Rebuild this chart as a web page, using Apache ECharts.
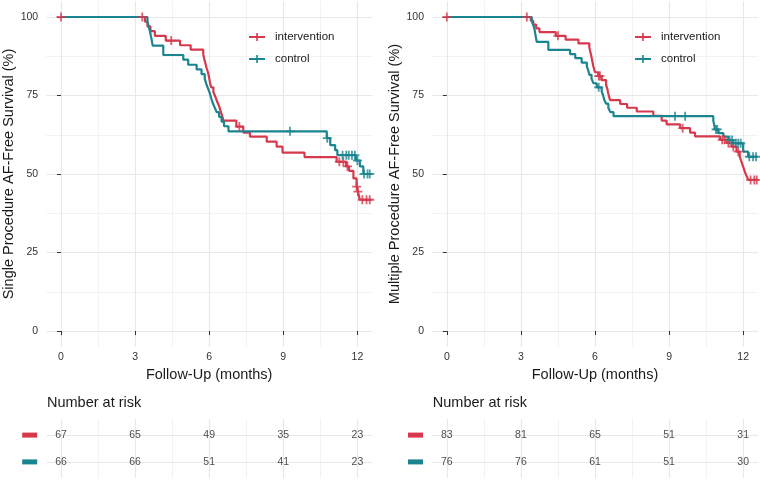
<!DOCTYPE html>
<html><head><meta charset="utf-8">
<script src="https://cdn.jsdelivr.net/npm/echarts@6/dist/echarts.min.js"></script>
<style>html,body{margin:0;padding:0;background:#fff}#c{width:760px;height:480px}</style>
</head><body><div id="c"></div>
<script>
// ---------- DATA ----------
const xTicks = [0, 3, 6, 9, 12];
const xMinorTicks = [1.5, 4.5, 7.5, 10.5];
const yTicks = [0, 25, 50, 75, 100];
const yMinorTicks = [12.5, 37.5, 62.5, 87.5];

// Single procedure (left)
const leftIntT = [0,3.40,3.50,3.62,3.80,4.24,4.82,5.25,5.76,5.80,5.85,5.90,5.96,6.00,6.03,6.08,6.17,6.25,6.32,6.40,6.46,6.52,6.58,7.10,7.38,7.65,8.33,8.73,8.97,9.86,11.16,11.54,11.66,11.84,11.97,12.02,12.10,12.58];
const leftIntS = [100,98.5,97.0,95.5,94.0,92.5,91.0,89.6,88.1,86.6,85.1,83.6,82.1,80.6,79.1,77.6,76.1,74.6,73.1,71.6,70.1,68.6,67.0,65.1,63.2,61.9,60.3,58.7,56.8,55.4,53.9,52.4,51.0,48.6,46.0,44.4,41.8,41.8];
const leftIntCensT = [0,3.29,4.46,7.22,11.27,11.43,11.60,11.97,12.02,12.20,12.37,12.50];
const leftIntCensS = [100,100,92.5,65.1,53.9,53.9,52.4,46.0,44.4,41.8,41.8,41.8];

const leftCtlT = [0,3.50,3.55,3.60,3.64,3.68,3.71,4.14,4.95,5.15,5.49,5.69,5.82,5.88,5.95,6.02,6.08,6.14,6.22,6.30,6.40,6.50,6.60,6.78,10.76,10.90,11.10,11.19,11.94,12.10,12.24,12.58];
const leftCtlS = [100,98.5,97.0,95.5,93.9,92.4,90.9,87.9,86.4,84.8,83.3,81.8,80.3,78.8,77.3,75.8,74.2,72.7,71.2,69.7,68.2,66.7,65.2,63.6,61.4,59.2,57.6,56.0,54.3,52.4,50.0,50.0];
const leftCtlCensT = [9.27,10.78,11.40,11.55,11.65,11.78,11.90,12.00,12.27,12.41,12.50];
const leftCtlCensS = [63.6,61.4,56.0,56.0,56.0,56.0,56.0,54.3,50.0,50.0,50.0];

// Multiple procedure (right)
const rightIntT = [0,3.40,3.50,3.62,3.75,4.41,4.81,5.33,5.77,5.80,5.84,5.87,5.90,5.93,5.97,6.00,6.13,6.27,6.45,6.50,6.53,6.57,6.61,7.02,7.30,7.69,8.36,8.70,8.90,9.45,9.85,10.05,11.06,11.33,11.53,11.73,11.86,11.93,12.00,12.07,12.15,12.22,12.58];
const rightIntS = [100,98.8,97.6,96.4,95.2,94.0,92.8,91.6,90.4,89.2,88.0,86.8,85.6,84.4,83.2,82.4,81.2,79.9,78.3,77.1,75.9,74.7,73.5,72.3,71.1,69.9,68.5,67.0,65.8,64.6,63.2,62.0,60.9,59.9,58.7,57.1,55.5,53.9,52.3,50.7,49.1,48.1,48.1];
const rightIntCensT = [0,3.24,4.50,6.15,6.20,9.55,11.15,11.25,11.40,11.60,11.80,12.30,12.45,12.55];
const rightIntCensS = [100,100,94.0,81.2,81.2,64.6,60.9,60.9,59.9,58.7,57.1,48.1,48.1,48.1];

const rightCtlT = [0,3.44,3.50,3.55,3.58,3.61,3.64,4.11,4.99,5.20,5.46,5.67,5.73,5.77,5.86,5.94,6.07,6.27,6.33,6.37,6.45,6.54,6.62,6.75,10.79,10.83,10.86,11.00,11.20,11.40,11.60,12.00,12.20,12.58];
const rightCtlS = [100,98.7,97.4,96.1,94.7,93.4,92.1,89.5,88.2,86.9,85.5,84.2,82.9,81.6,80.3,78.9,77.6,76.3,75.0,73.7,72.4,71.1,69.7,68.4,67.0,65.6,64.2,63.0,61.9,60.8,59.8,57.1,55.5,55.5];
const rightCtlCensT = [6.15,9.24,9.65,10.90,10.95,11.45,11.55,11.70,11.80,11.90,12.25,12.40,12.52];
const rightCtlCensS = [77.6,68.4,68.4,64.2,64.2,60.8,60.8,59.8,59.8,59.8,55.5,55.5,55.5];

// Number at risk
const riskTimes = [0, 3, 6, 9, 12];
const leftRiskInt = [67, 65, 49, 35, 23];
const leftRiskCtl = [66, 66, 51, 41, 23];
const rightRiskInt = [83, 81, 65, 51, 31];
const rightRiskCtl = [76, 76, 61, 51, 30];

const groupNames = ['intervention', 'control'];
const yTitles = ['Single Procedure AF-Free Survival (%)', 'Multiple Procedure AF-Free Survival (%)'];
const xTitle = 'Follow-Up (months)';
const riskTitle = 'Number at risk';

// ---------- STYLE ----------
const RED = '#D6384C', TEAL = '#1A8490';
const FONT = '"Liberation Sans", Arial, Helvetica, sans-serif';
const TXT = '#1a1a1a';
const GRID_MAJOR = '#e8e8e8', GRID_MINOR = '#f2f2f2';
const PLUS = 'path://M-0.8,-4H0.8V-0.8H4V0.8H0.8V4H-0.8V0.8H-4V-0.8H-0.8Z';
const LEG_ICON = 'path://M0,3.1H7.2V0H8.8V3.1H16V4.9H8.8V8H7.2V4.9H0Z';

const panels = [
  { left: 46.2, int: [leftIntT, leftIntS, leftIntCensT, leftIntCensS], ctl: [leftCtlT, leftCtlS, leftCtlCensT, leftCtlCensS], risk: [leftRiskInt, leftRiskCtl], legLeft: 249 },
  { left: 432, int: [rightIntT, rightIntS, rightIntCensT, rightIntCensS], ctl: [rightCtlT, rightCtlS, rightCtlCensT, rightCtlCensS], risk: [rightRiskInt, rightRiskCtl], legLeft: 635 }
];
const PANEL_W = 326;

const grid = [], xAxis = [], yAxis = [], series = [], legend = [], title = [];

function gridLines(xi, yi, ys) {
  const data = [];
  xMinorTicks.forEach(v => data.push({ xAxis: v, lineStyle: { color: GRID_MINOR, width: 1 } }));
  ys.minor.forEach(v => data.push({ yAxis: v, lineStyle: { color: GRID_MINOR, width: 1 } }));
  xTicks.forEach(v => data.push({ xAxis: v, lineStyle: { color: GRID_MAJOR, width: 1.2 } }));
  ys.major.forEach(v => data.push({ yAxis: v, lineStyle: { color: GRID_MAJOR, width: 1.2 } }));
  return {
    type: 'line', name: 'grid' + xi, xAxisIndex: xi, yAxisIndex: yi, data: [], silent: true, z: 0,
    markLine: { silent: true, z: 0, symbol: ['none', 'none'], label: { show: false }, animation: false,
      lineStyle: { type: 'solid' }, emphasis: { disabled: true }, data }
  };
}

panels.forEach((p, k) => {
  const gi = grid.length;
  // main panel
  grid.push({ left: p.left, width: PANEL_W, top: 1.3, height: 345.4, containLabel: false, outerBoundsMode: 'none' });
  xAxis.push({
    type: 'value', gridIndex: gi, min: -0.6, max: 12.6,
    axisLine: { show: false }, splitLine: { show: false },
    axisTick: { show: true, customValues: xTicks, length: 4, lineStyle: { color: '#333', width: 1 } },
    axisLabel: { customValues: xTicks, margin: 5, fontSize: 10.5, color: '#333', fontFamily: FONT },
    name: xTitle, nameLocation: 'middle', nameGap: 20,
    nameTextStyle: { fontSize: 14.5, color: TXT, fontFamily: FONT }
  });
  yAxis.push({
    type: 'value', gridIndex: gi, min: -5, max: 105,
    axisLine: { show: false }, splitLine: { show: false },
    axisTick: { show: true, customValues: yTicks, length: 4, lineStyle: { color: '#333', width: 1 } },
    axisLabel: { customValues: yTicks, margin: 8, fontSize: 10.5, color: '#333', fontFamily: FONT },
    name: yTitles[k], nameLocation: 'middle', nameRotate: 90, nameGap: 27,
    nameTextStyle: { fontSize: 14.5, color: TXT, fontFamily: FONT }
  });
  series.push(gridLines(gi, gi, { major: yTicks, minor: yMinorTicks }));
  [[p.int, RED, groupNames[0]], [p.ctl, TEAL, groupNames[1]]].forEach(([d, col, nm]) => {
    series.push({
      type: 'line', name: nm, xAxisIndex: gi, yAxisIndex: gi, step: 'end', symbol: 'none', showSymbol: false,
      data: d[0].map((t, i) => [t, d[1][i]]), lineStyle: { color: col, width: 2.2 }, itemStyle: { color: col }, z: 3
    });
    series.push({
      type: 'scatter', name: nm, xAxisIndex: gi, yAxisIndex: gi, symbol: PLUS, symbolSize: 9,
      data: d[2].map((t, i) => [t, d[3][i]]), itemStyle: { color: col }, z: 4
    });
  });
  legend.push({
    orient: 'vertical', left: p.legLeft, top: 31, itemWidth: 16, itemHeight: 8, itemGap: 10, padding: 0,
    selectedMode: false, z: 10,
    data: groupNames.map(n => ({ name: n, icon: LEG_ICON })),
    textStyle: { fontSize: 11.5, color: TXT, fontFamily: FONT, padding: [0, 0, 0, 5] }
  });

  // risk table
  const ri = grid.length;
  grid.push({ left: p.left, width: PANEL_W, top: 419, height: 59, containLabel: false, outerBoundsMode: 'none' });
  xAxis.push({ type: 'value', gridIndex: ri, min: -0.6, max: 12.6, axisLine: { show: false }, axisTick: { show: false }, axisLabel: { show: false }, splitLine: { show: false } });
  yAxis.push({
    type: 'value', gridIndex: ri, min: 0.4, max: 2.6, axisLine: { show: false }, axisTick: { show: false }, splitLine: { show: false },
    axisLabel: { customValues: [1, 2], margin: 9, formatter: v => (v === 2 ? '{r| }' : '{t| }'),
      rich: { r: { width: 15, height: 5, backgroundColor: RED }, t: { width: 15, height: 5, backgroundColor: TEAL } } }
  });
  series.push(gridLines(ri, ri, { major: [1, 2], minor: [] }));
  [[p.risk[0], 2], [p.risk[1], 1]].forEach(([vals, row]) => {
    series.push({
      type: 'scatter', name: 'risk' + k + row, xAxisIndex: ri, yAxisIndex: ri, symbolSize: 0, silent: true,
      data: riskTimes.map((t, i) => [t, row, vals[i]]),
      label: { show: true, position: 'inside', formatter: q => String(q.value[2]), fontSize: 10.5, color: TXT, fontFamily: FONT },
      z: 4
    });
  });
  title.push({ text: riskTitle, left: p.left + 0.8, top: 395, padding: 0,
    textStyle: { fontSize: 14.5, fontWeight: 'normal', color: TXT, fontFamily: FONT } });
});

const chart = echarts.init(document.getElementById('c'), null, { renderer: 'canvas' });
chart.setOption({
  animation: false, backgroundColor: '#fff',
  textStyle: { fontFamily: FONT },
  title, legend, grid, xAxis, yAxis, series
});
</script></body></html>
